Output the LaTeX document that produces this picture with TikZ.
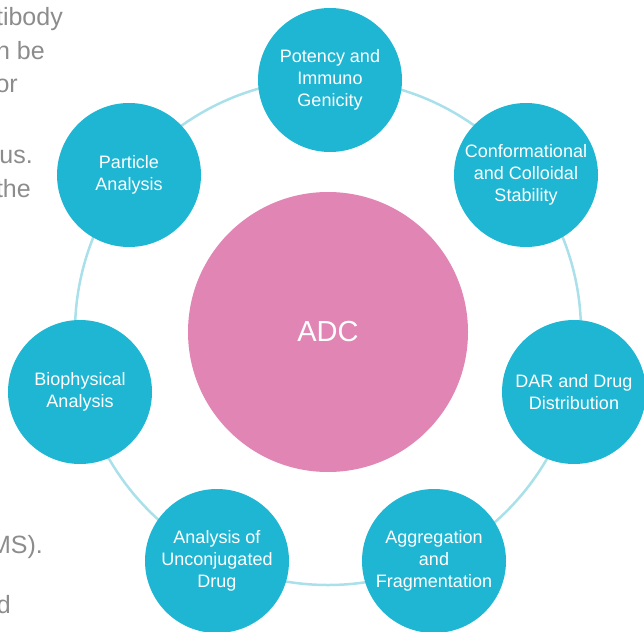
\documentclass[tikz,border=0pt]{standalone}
\usepackage{fontspec}
\setmainfont{Liberation Sans}
\definecolor{tealc}{HTML}{1EB6D3}
\definecolor{pinkadc}{HTML}{E085B4}
\definecolor{ringc}{HTML}{A9E0EA}
\definecolor{graytxt}{HTML}{8C8C8C}
\tikzset{
  topic/.style={circle, fill=tealc, minimum size=144pt, inner sep=0pt, text=white, align=center, font=\fontsize{18}{22}\selectfont},
  adcbox/.style={circle, fill=pinkadc, minimum size=280pt, inner sep=0pt, text=white, font=\fontsize{29}{36}\selectfont},
  ringline/.style={circle, draw=ringc, line width=2.5pt, minimum size=506pt, inner sep=0pt},
  side/.style={anchor=base east, text=graytxt, inner sep=0pt, font=\fontsize{25}{30}\selectfont}
}
\begin{document}
\begin{tikzpicture}[x=1pt,y=-1pt]
\useasboundingbox (0,0) rectangle (644,631);
\coordinate (c) at (328,332);
\node[ringline] (ring) at (c) {};
\node[adcbox] (adc) at (c) {ADC};
\node[topic] (pot) at (330,80) {Potency and\\Immuno\\Genicity};
\node[topic] (conf) at (526,175) {Conformational\\and Colloidal\\Stability};
\node[topic] (dar) at (574,392) {DAR and Drug\\Distribution};
\node[topic] (agg) at (434,561) {Aggregation\\and\\Fragmentation};
\node[topic] (unc) at (217,561) {Analysis of\\Unconjugated\\Drug};
\node[topic] (bio) at (80,392) {Biophysical\\Analysis};
\node[topic] (part) at (129,175) {Particle\\Analysis};
\node[side] (t1) at (63,26) {tibody};
\node[side] (t2) at (45,60) {n be};
\node[side] (t3) at (18,93) {or};
\node[side] (t4) at (33,164) {ous.};
\node[side] (t5) at (31,197) {the};
\node[side] (t6) at (43,553) {MS).};
\node[side] (t7) at (11,613) {d};
\end{tikzpicture}
\end{document}
